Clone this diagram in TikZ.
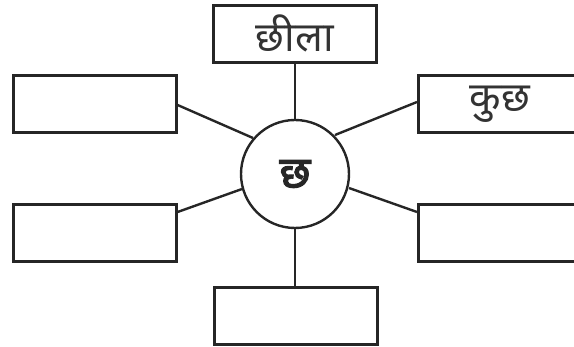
\documentclass[tikz,border=0pt]{standalone}
\usepackage{fontspec}
\newfontfamily\deva[Script=Devanagari]{Noto Sans}
\newfontfamily\devabold[Script=Devanagari,FakeBold=3]{Noto Sans}
\begin{document}
\begin{tikzpicture}[x=1pt,y=-1pt,
  lbox/.style={draw=black!85, line width=2.6pt, minimum width=163pt, minimum height=57pt, inner sep=0pt, anchor=north west, text=black!80, font=\deva\fontsize{41}{44}\selectfont},
  conn/.style={draw=black!85, line width=2.4pt}]
\useasboundingbox (0,0) rectangle (574,347);
\begin{scope}
\clip (0,0) rectangle (574,347);
\node[lbox] (top) at (212,4) {छीला};
\node[lbox] (lt) at (12,74) {};
\node[lbox] (rt) at (417,74) {कुछ};
\node[lbox] (lb) at (12,203) {};
\node[lbox] (rb) at (417,203) {};
\node[lbox] (bot) at (213,286) {};
\node[circle, draw=black!85, line width=2.4pt, minimum size=108pt, inner sep=0pt, text=black!85, font=\devabold\fontsize{44}{46}\selectfont] (c) at (295,174) {छ};
\coordinate (ltc) at (253,138);
\coordinate (rtc) at (335,135);
\coordinate (lbc) at (242,189);
\coordinate (rbc) at (349,188);
\draw[conn] (top.south -| c) -- (c.north);
\draw[conn] (bot.north -| c) -- (c.south);
\draw[conn] (lt.east |- 0,105) -- (ltc);
\draw[conn] (rt.west |- 0,102) -- (rtc);
\draw[conn] (lb.east |- 0,212) -- (lbc);
\draw[conn] (rb.west |- 0,212) -- (rbc);
\end{scope}
\end{tikzpicture}
\end{document}
